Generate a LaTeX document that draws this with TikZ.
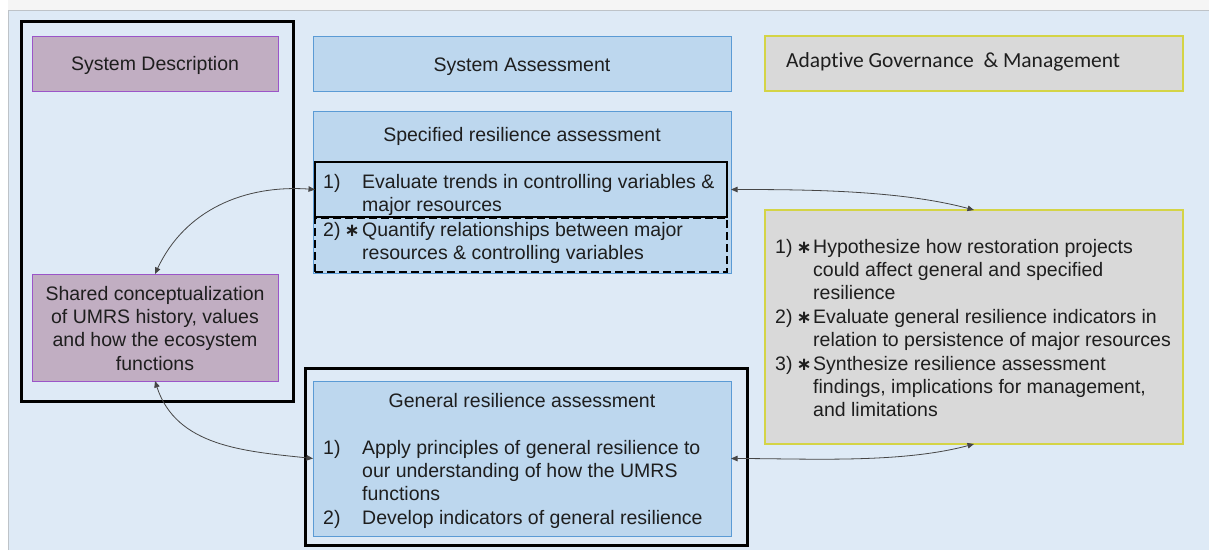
\documentclass[tikz,border=0pt]{standalone}
\usepackage{fontspec}
\setmainfont{Liberation Sans}
\newfontfamily\calib[Ligatures=NoCommon]{Carlito}
\newfontfamily\dvs{DejaVu Sans}
\usetikzlibrary{arrows.meta}
\definecolor{panel}{RGB}{222,234,246}
\definecolor{panelline}{RGB}{190,195,200}
\definecolor{bluefill}{RGB}{189,215,238}
\definecolor{blueline}{RGB}{91,155,213}
\definecolor{mauvefill}{RGB}{193,174,194}
\definecolor{mauveline}{RGB}{155,85,200}
\definecolor{grayfill}{RGB}{217,217,217}
\definecolor{yelline}{RGB}{212,212,70}
\definecolor{txtcol}{RGB}{30,30,30}
\definecolor{conncol}{RGB}{70,70,70}
\newcommand{\myast}{{\dvs\bfseries\fontsize{18}{18}\selectfont ∗}}
\begin{document}
\begin{tikzpicture}[x=1pt,y=-1pt,
  boxbase/.style={anchor=north west, inner sep=0pt, outer sep=0pt},
  bluebox/.style={boxbase, draw=blueline, fill=bluefill, line width=1pt},
  mauvebox/.style={boxbase, draw=mauveline, fill=mauvefill, line width=1pt},
  graybox/.style={boxbase, draw=yelline, fill=grayfill, line width=1.3pt},
  frame/.style={boxbase, draw=black, line width=3pt},
  itembox/.style={boxbase, draw=black, line width=2.6pt},
  txt/.style={inner sep=0pt, text=txtcol, font=\fontsize{19.5}{23.4}\selectfont},
  conn/.style={draw=conncol, line width=0.8pt,
    {Triangle[length=6.5pt,width=5.5pt]}-{Triangle[length=6.5pt,width=5.5pt]}}
]
\useasboundingbox (0,0) rectangle (1209,550);
% background panel
\fill[white] (0,0) rectangle (1209,550);
\fill[black!4] (8,0) rectangle (1209,10);
\fill[panel] (8,10) rectangle (1209,550);
\draw[panelline, line width=1pt] (8,550) -- (8,10) -- (1209,10);

% System description column
\node[frame, minimum width=272pt, minimum height=380pt] (sdframe) at (21,21) {};
\node[mauvebox, minimum width=246pt, minimum height=55pt] (sysdesc) at (32,36) {};
\node[mauvebox, minimum width=246pt, minimum height=107pt] (shared) at (32,274) {};
\node[txt, anchor=base] (sysdesct) at (155,70) {System Description};
\node[txt, anchor=base] (sharedt) at (155,300) {\begin{tabular}[t]{@{}c@{}}Shared conceptualization\\ of UMRS history, values\\ and how the ecosystem\\ functions\end{tabular}};

% System assessment column
\node[bluebox, minimum width=418pt, minimum height=55pt] (sysassess) at (313,36) {};
\node[txt, anchor=base] (sysassesst) at (522,71) {System Assessment};

\node[bluebox, minimum width=418pt, minimum height=162pt] (spec) at (313,111) {};
\node[txt, anchor=base] (spect) at (522,141) {Specified resilience assessment};
\node[itembox, minimum width=412pt, minimum height=55pt] (item1) at (315,162) {};
\node[itembox, dashed, dash pattern=on 8pt off 4pt, minimum width=412pt, minimum height=54pt] (item2) at (315,218) {};
\node[txt, anchor=base west] (item1t) at (323,188) {\begin{tabular}[t]{@{}p{39pt}@{}l@{}}1) & Evaluate trends in controlling variables \&\\ & major resources\end{tabular}};
\node[txt, anchor=base west] (item2t) at (323,236) {\begin{tabular}[t]{@{}p{39pt}@{}l@{}}2)\hspace{4pt}\myast & Quantify relationships between major\\ & resources \& controlling variables\end{tabular}};

\node[frame, minimum width=442pt, minimum height=177pt] (genframe) at (305,368) {};
\node[bluebox, minimum width=418pt, minimum height=155pt] (gen) at (313,381) {};
\node[txt, anchor=base] (gent) at (522,407) {General resilience assessment};
\node[txt, anchor=base west] (genlist) at (323,454) {\begin{tabular}[t]{@{}p{39pt}@{}l@{}}1) & Apply principles of general resilience to\\ & our understanding of how the UMRS\\ & functions\\ 2) & Develop indicators of general resilience\end{tabular}};

% Adaptive governance column
\node[graybox, minimum width=418pt, minimum height=55pt] (adapt) at (765,36) {};
\node[inner sep=0pt, text=txtcol, anchor=base west, font=\calib\fontsize{21.5}{24}\selectfont] (adaptt) at (786,67) {Adaptive Governance \ \& Management};
\node[graybox, minimum width=418pt, minimum height=234pt] (agm) at (765,210) {};
\node[txt, anchor=base west] (agmlist) at (775,253) {\begin{tabular}[t]{@{}p{38pt}@{}l@{}}1)\hspace{4pt}\myast & Hypothesize how restoration projects\\ & could affect general and specified\\ & resilience\\ 2)\hspace{4pt}\myast & Evaluate general resilience indicators in\\ & relation to persistence of major resources\\ 3)\hspace{4pt}\myast & Synthesize resilience assessment\\ & findings, implications for management,\\ & and limitations\end{tabular}};

% connectors
\draw[conn] (item1.west) to[out=176, in=65, looseness=1.0] (shared.north);
\draw[conn] (shared.south) to[out=-72, in=174, looseness=1.0] (gen.west);
\draw[conn] (spec.east |- item1.east) to[out=0, in=165, looseness=0.8] (agm.north);
\draw[conn] (gen.east) to[out=0, in=-165, looseness=0.8] (agm.south);
\end{tikzpicture}
\end{document}
